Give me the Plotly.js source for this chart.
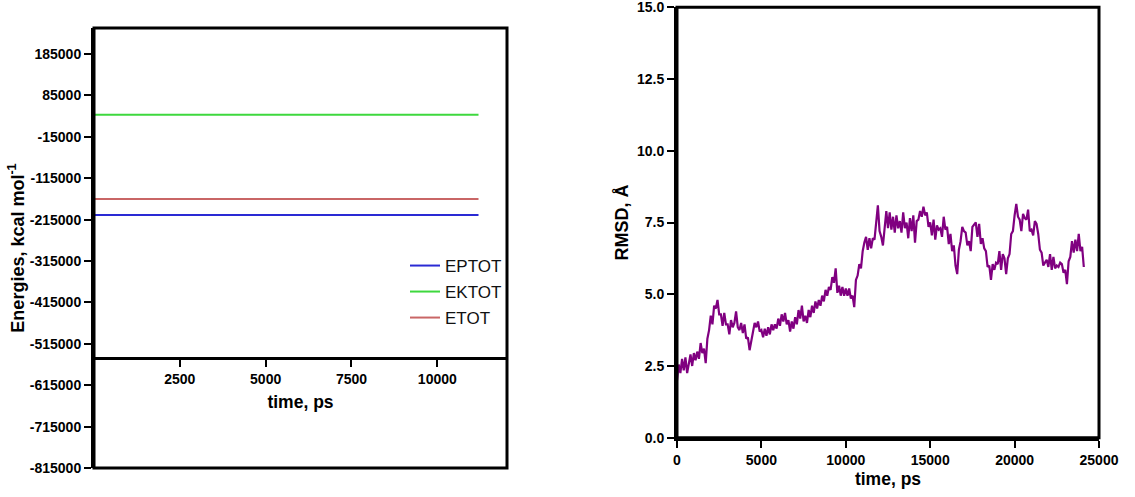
<!DOCTYPE html>
<html><head><meta charset="utf-8">
<script src="https://cdn.plot.ly/plotly-3.0.1.min.js"></script>
<style>html,body{margin:0;padding:0;background:#fff}#chart{width:1135px;height:497px}</style>
</head><body><div id="chart"></div>
<script>
// ---- Energy panel data (time step 800 ps from 0) ----
const energyNames = ['EPTOT', 'EKTOT', 'ETOT'];
const EPTOT = [-203500, -203520, -203490, -203510, -203500, -203480, -203510, -203500, -203520, -203490, -203500, -203510, -203500, -203490, -203500];
const EKTOT = [38600, 38580, 38610, 38590, 38600, 38620, 38590, 38600, 38610, 38590, 38600, 38580, 38600, 38610, 38600];
const ETOT  = [-164900, -164920, -164890, -164910, -164900, -164880, -164910, -164900, -164920, -164890, -164900, -164910, -164900, -164890, -164900];
const energyTickVals = [-815000, -715000, -615000, -515000, -415000, -315000, -215000, -115000, -15000, 85000, 185000];
const energyTickText = ['-815000', '-715000', '-615000', '-515000', '-415000', '-315000', '-215000', '-115000', '-15000', '85000', '185000'];
const energyTimeTicks = [2500, 5000, 7500, 10000];

// ---- RMSD panel data (time step 100 ps from 0) ----
const RMSD = [
 2.0, 2.55, 2.25, 2.75, 2.35, 2.8, 2.25, 2.65, 2.9, 2.5,
 2.95, 2.7, 3.0, 2.75, 3.3, 2.95, 3.1, 2.6, 3.45, 3.75,
 4.25, 3.95, 4.6, 4.5, 4.8, 4.3, 4.3, 3.9, 4.35, 3.95,
 3.95, 3.6, 4.1, 3.85, 4.0, 4.4, 3.85, 3.75, 4.0, 3.65,
 3.95, 3.45, 3.5, 3.05, 3.4, 3.7, 4.0, 3.85, 4.05, 3.7,
 3.75, 3.5, 3.8, 3.55, 3.85, 3.6, 3.95, 3.75, 3.95, 3.8,
 4.15, 3.9, 4.3, 4.05, 4.35, 3.95, 4.1, 3.7, 4.05, 3.8,
 4.2, 3.95, 4.45, 4.15, 4.6, 4.05, 4.25, 4.0, 4.45, 4.2,
 4.6, 4.35, 4.75, 4.5, 4.8, 4.6, 4.95, 4.75, 5.15, 4.95,
 5.25, 5.15, 5.6, 5.4, 5.9, 5.05, 5.3, 4.95, 5.25, 4.95,
 5.2, 4.95, 5.2, 4.85, 4.95, 4.55, 5.5, 5.65, 6.05, 5.9,
 6.5, 6.8, 7.0, 6.55, 6.95, 6.6, 6.95, 6.9, 7.6, 8.1,
 7.2, 7.0, 6.7, 7.3, 7.9, 7.3, 7.85, 7.25, 7.7, 7.15,
 7.75, 7.3, 7.55, 7.15, 7.85, 7.3, 7.5, 6.95, 7.65, 7.2,
 7.75, 6.8, 7.55, 7.6, 7.9, 7.7, 8.05, 7.75, 7.85, 7.35,
 7.5, 7.05, 7.6, 6.9, 7.4, 7.25, 7.3, 7.0, 7.7, 7.25,
 7.35, 6.75, 7.1, 6.5, 6.7, 6.0, 5.7, 6.55, 6.85, 7.35,
 7.2, 7.15, 6.7, 6.85, 6.5, 7.35, 7.45, 7.5, 7.0, 7.45,
 6.75, 6.95, 6.6, 6.5, 5.95, 6.0, 5.5, 6.05, 5.85, 6.1,
 6.05, 6.5, 5.85, 6.4, 6.25, 5.7, 6.25, 6.4, 7.1, 7.2,
 7.75, 8.15, 7.7, 7.6, 7.2, 7.8, 7.65, 7.6, 7.95, 7.2,
 7.25, 7.05, 7.55, 7.45, 7.1, 6.55, 6.45, 6.0, 6.1, 6.2,
 5.95, 6.4, 5.85, 6.3, 5.9, 6.0, 5.95, 6.1, 6.05, 5.75,
 5.85, 5.35, 6.15, 6.3, 6.85, 6.45, 6.9, 6.5, 7.1, 6.5,
 6.65, 5.95
];
const rmsdTimeTicks = [0, 5000, 10000, 15000, 20000, 25000];
const rmsdTicks = [0, 2.5, 5, 7.5, 10, 12.5, 15];

const FONT = 'Liberation Sans, Arial, Helvetica, sans-serif';
const colors = ['#2a2ad4', '#3ed83e', '#c96666'];
const energySeries = [EPTOT, EKTOT, ETOT];
const legendIds = ['legend', 'legend2', 'legend3'];

const traces = energySeries.map((vals, i) => ({
  type: 'scatter', mode: 'lines', name: energyNames[i],
  x0: 0, dx: 800, y: vals,
  xaxis: 'x', yaxis: 'y',
  line: {color: colors[i], width: 2},
  legend: legendIds[i], showlegend: true
}));
traces.push({
  type: 'scatter', mode: 'lines', name: 'RMSD',
  x0: 0, dx: 100, y: RMSD,
  xaxis: 'x2', yaxis: 'y2',
  line: {color: '#800080', width: 2.2},
  showlegend: false
});

const tickFont = {family: FONT, size: 14, color: '#000', weight: 'bold'};
const xTitleFont = {family: FONT, size: 17.5, color: '#000', weight: 'bold'};
const yTitleFont = {family: FONT, size: 18, color: '#000', weight: 'bold'};
const legendFont = {family: FONT, size: 17, color: '#111'};
const H = 497, W = 1135;

function legendAt(ypx) {
  return {x: 405 / W, y: (H - ypx) / H, xanchor: 'left', yanchor: 'middle',
    bgcolor: 'rgba(0,0,0,0)', borderwidth: 0, font: legendFont};
}

const layout = {
  width: W, height: H,
  margin: {l: 0, r: 0, t: 0, b: 0},
  paper_bgcolor: '#fff', plot_bgcolor: '#fff',
  font: {family: FONT},
  xaxis: {
    domain: [94 / W, 507 / W], range: [0, 12030],
    anchor: 'free', position: (H - 358) / H,
    showline: true, linewidth: 3, linecolor: '#000',
    ticks: 'outside', ticklen: 7, tickwidth: 2, tickcolor: '#000',
    tickmode: 'array', tickvals: energyTimeTicks, tickformat: 'd',
    tickfont: tickFont, showgrid: false, zeroline: false,
    title: {text: 'time, ps', font: xTitleFont, standoff: 9}
  },
  yaxis: {
    domain: [(H - 468) / H, (H - 28) / H], range: [-815000, 248000],
    anchor: 'x',
    showline: true, linewidth: 3, linecolor: '#000',
    ticks: 'outside', ticklen: 7, tickwidth: 2, tickcolor: '#000',
    tickmode: 'array', tickvals: energyTickVals, ticktext: energyTickText,
    tickfont: tickFont, showgrid: false, zeroline: false,
    title: {text: 'Energies, kcal mol<sup>-1</sup>', font: yTitleFont, standoff: 1}
  },
  xaxis2: {
    domain: [677 / W, 1099 / W], range: [0, 25000], anchor: 'y2',
    showline: true, linewidth: 3, linecolor: '#000',
    ticks: 'outside', ticklen: 7, tickwidth: 2, tickcolor: '#000',
    tickmode: 'array', tickvals: rmsdTimeTicks, tickformat: 'd',
    tickfont: tickFont, showgrid: false, zeroline: false,
    ticklabeloverflow: 'allow',
    title: {text: 'time, ps', font: xTitleFont, standoff: 7}
  },
  yaxis2: {
    domain: [(H - 437.7) / H, (H - 7.3) / H], range: [0, 15], anchor: 'x2',
    showline: true, linewidth: 3, linecolor: '#000',
    ticks: 'outside', ticklen: 7, tickwidth: 2, tickcolor: '#000',
    tickmode: 'array', tickvals: rmsdTicks, tickformat: '.1f',
    tickfont: tickFont, showgrid: false, zeroline: false,
    ticklabeloverflow: 'allow',
    title: {text: 'RMSD, Å', font: yTitleFont, standoff: 4}
  },
  shapes: [
    {type: 'rect', xref: 'x domain', yref: 'y domain', x0: 0, x1: 1, y0: 0, y1: 1,
     line: {color: '#000', width: 3}, layer: 'above'},
    {type: 'rect', xref: 'x2 domain', yref: 'y2 domain', x0: 0, x1: 1, y0: 0, y1: 1,
     line: {color: '#000', width: 3}, layer: 'above'}
  ],
  legend: legendAt(266),
  legend2: legendAt(292),
  legend3: legendAt(318),
  showlegend: true
};

Plotly.newPlot('chart', traces, layout, {displayModeBar: false, staticPlot: true});
</script>
</body></html>
